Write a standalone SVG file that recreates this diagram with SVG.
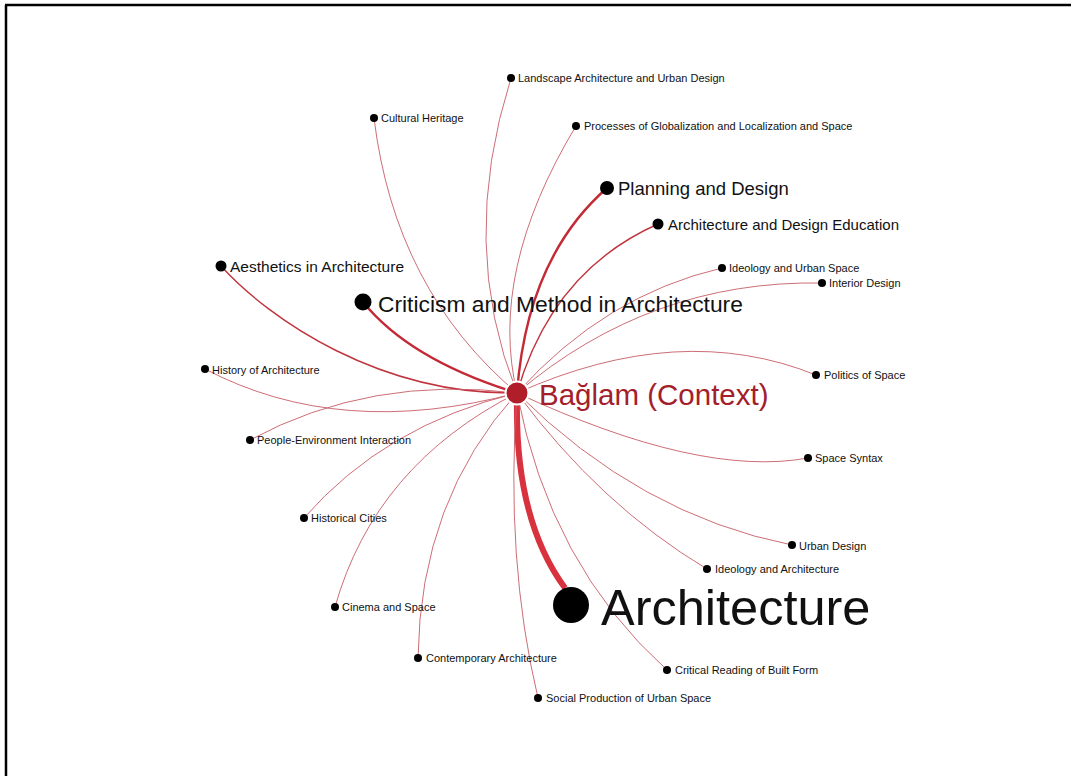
<svg xmlns="http://www.w3.org/2000/svg" width="1071" height="776" viewBox="0 0 1071 776">
<style>
.e{fill:none;stroke:#c65d66;stroke-width:1;stroke-opacity:0.9}
.e2{fill:none;stroke:#c0343e;stroke-width:1.4}
.e3{fill:none;stroke:#c42a35;stroke-width:2.4}
.e4{fill:none;stroke:#d8323e;stroke-width:6}
.n{fill:#000}
text{font-family:"Liberation Sans",Arial,sans-serif;fill:#111}
.s{font-size:11px}
</style>
<rect width="1071" height="776" fill="#fff"/>
<g id="frame" stroke="#000" stroke-width="2.5">
<line x1="5" y1="5" x2="1071" y2="5"/>
<line x1="6" y1="5" x2="6" y2="776"/>
</g>
<g id="connectors">
<path class="e" d="M517,393 Q458,245 511,78"/>
<path class="e" d="M517,393 Q488,272 576,126"/>
<path class="e" d="M517,393 Q395,290 374,118"/>
<path class="e3" d="M517,393 Q527,258 607,188"/>
<path class="e2" d="M517,393 Q552,271 658,224"/>
<path class="e2" d="M517,393 C380,395 270,320 221,266"/>
<path class="e3" d="M517,393 Q410,360 363,302"/>
<path class="e" d="M517,393 Q605,295 722,268"/>
<path class="e" d="M517,393 Q650,280 822,283"/>
<path class="e" d="M517,393 Q340,440 205,369"/>
<path class="e" d="M517,393 Q680,320 816,375"/>
<path class="e" d="M517,393 Q370,375 250,440"/>
<path class="e" d="M517,393 Q700,478 808,458"/>
<path class="e" d="M517,393 Q385,425 304,518"/>
<path class="e" d="M517,393 Q640,515 792,545"/>
<path class="e" d="M517,393 Q600,505 707,569"/>
<path class="e4" d="M517,400 Q515,520 565,588"/>
<path class="e" d="M517,393 Q375,465 335,607"/>
<path class="e" d="M517,393 Q420,500 418,658"/>
<path class="e" d="M517,393 Q550,565 667,670"/>
<path class="e" d="M517,393 Q505,560 538,698"/>
</g>
<g id="node-landscape"><circle class="n" cx="511" cy="78" r="4"/><text class="s" x="518" y="82">Landscape Architecture and Urban Design</text></g>
<g id="node-processes"><circle class="n" cx="576" cy="126" r="4"/><text class="s" x="584" y="130">Processes of Globalization and Localization and Space</text></g>
<g id="node-cultural"><circle class="n" cx="374" cy="118" r="4"/><text class="s" x="381" y="122">Cultural Heritage</text></g>
<g id="node-planning"><circle class="n" cx="607" cy="188" r="7"/><text x="618" y="195" font-size="18.5">Planning and Design</text></g>
<g id="node-ade"><circle class="n" cx="658" cy="224" r="5.5"/><text x="668" y="230" font-size="15">Architecture and Design Education</text></g>
<g id="node-aesthetics"><circle class="n" cx="221" cy="266" r="5.5"/><text x="230" y="272" font-size="15.5">Aesthetics in Architecture</text></g>
<g id="node-criticism"><circle class="n" cx="363" cy="302" r="8.5"/><text x="378" y="312" font-size="22.8">Criticism and Method in Architecture</text></g>
<g id="node-ius"><circle class="n" cx="722" cy="268" r="4"/><text class="s" x="729" y="272">Ideology and Urban Space</text></g>
<g id="node-interior"><circle class="n" cx="822" cy="283" r="4"/><text class="s" x="829" y="287">Interior Design</text></g>
<g id="node-history"><circle class="n" cx="205" cy="369" r="4"/><text class="s" x="212" y="374">History of Architecture</text></g>
<g id="node-politics"><circle class="n" cx="816" cy="375" r="4"/><text class="s" x="824" y="379">Politics of Space</text></g>
<g id="node-people"><circle class="n" cx="250" cy="440" r="4"/><text class="s" x="257" y="444">People-Environment Interaction</text></g>
<g id="node-syntax"><circle class="n" cx="808" cy="458" r="4"/><text class="s" x="815" y="462">Space Syntax</text></g>
<g id="node-historical"><circle class="n" cx="304" cy="518" r="4"/><text class="s" x="311" y="522">Historical Cities</text></g>
<g id="node-urban"><circle class="n" cx="792" cy="545" r="4"/><text class="s" x="799" y="550">Urban Design</text></g>
<g id="node-ideology-arch"><circle class="n" cx="707" cy="569" r="4"/><text class="s" x="715" y="573">Ideology and Architecture</text></g>
<g id="node-cinema"><circle class="n" cx="335" cy="607" r="4"/><text class="s" x="342" y="611">Cinema and Space</text></g>
<g id="node-contemporary"><circle class="n" cx="418" cy="658" r="4"/><text class="s" x="426" y="662">Contemporary Architecture</text></g>
<g id="node-critical"><circle class="n" cx="667" cy="670" r="4"/><text class="s" x="675" y="674">Critical Reading of Built Form</text></g>
<g id="node-social"><circle class="n" cx="538" cy="698" r="4"/><text class="s" x="546" y="702">Social Production of Urban Space</text></g>
<g id="node-architecture"><circle class="n" cx="571" cy="605" r="18"/><text x="601" y="625" font-size="50.5">Architecture</text></g>
<g id="node-context"><circle cx="517" cy="393" r="11.5" fill="#b01e29" stroke="#fff" stroke-width="2"/><text x="539" y="405" font-size="29.5" style="fill:#a3202b">Bağlam (Context)</text></g>
</svg>
